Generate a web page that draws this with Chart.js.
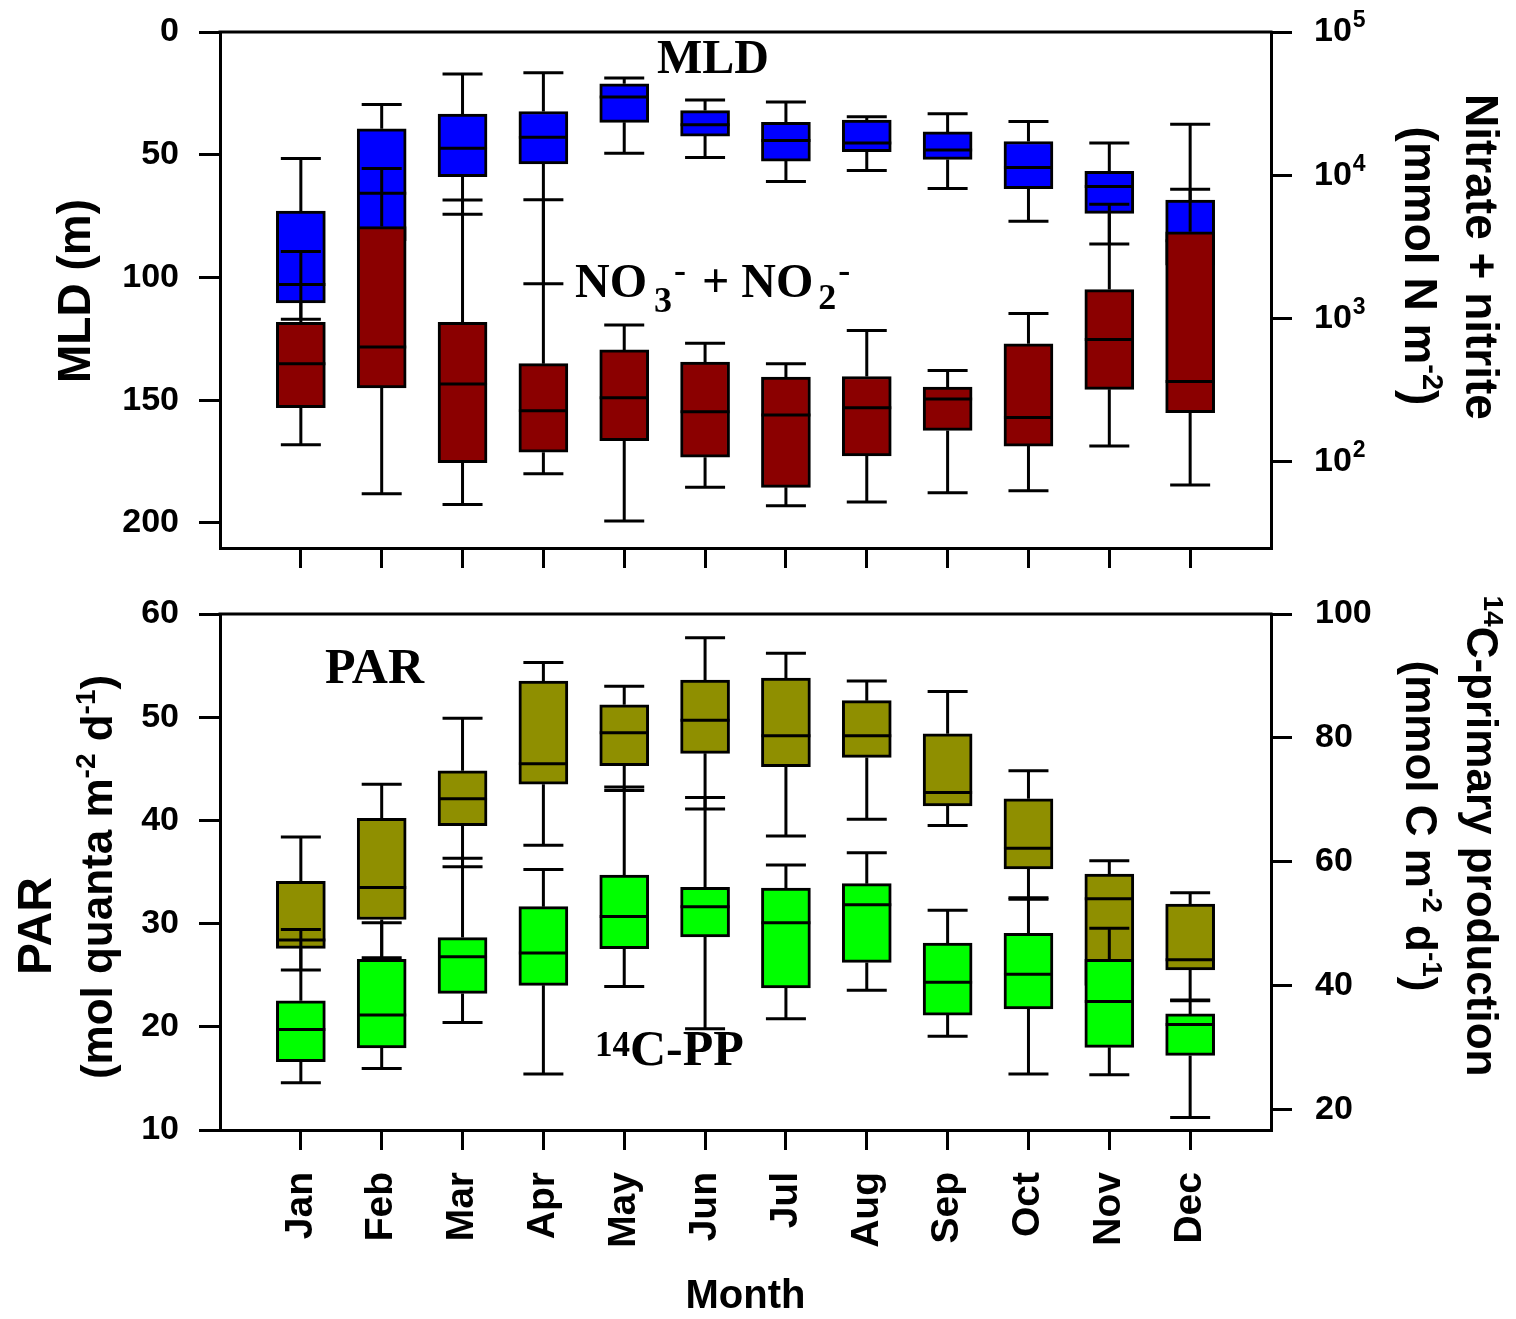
<!DOCTYPE html>
<html>
<head>
<meta charset="utf-8">
<script src="https://cdn.jsdelivr.net/npm/chart.js@4.4.0/dist/chart.umd.min.js"></script>
<style>
  body { margin: 0; background: #fff; }
  #wrap { position: relative; width: 1516px; height: 1319px; }
  #mldChart { position: absolute; left: 0; top: 0; }
  #parChart { position: absolute; left: 0; top: 580px; }
</style>
</head>
<body>
<div id="wrap">
  <canvas id="mldChart" width="1516" height="580"></canvas>
  <canvas id="parChart" width="1516" height="739"></canvas>
</div>
<script>
// month categories
const months = ["Jan", "Feb", "Mar", "Apr", "May", "Jun", "Jul", "Aug", "Sep", "Oct", "Nov", "Dec"];

// mixed layer depth (m) - box stats
const mldMin = [51.5, 29.5, 17.1, 16.6, 18.7, 27.7, 28.5, 34.5, 33.3, 36.5, 45.2, 37.6];
const mldQ1  = [73.0, 39.4, 33.4, 32.4, 21.1, 32.0, 36.8, 35.9, 40.7, 44.6, 56.8, 68.5];
const mldMed = [102.9, 65.7, 47.4, 42.9, 26.5, 37.8, 44.2, 45.2, 48.1, 55.2, 62.9, 85];
const mldQ3  = [110.4, 85, 58.9, 53.7, 36.8, 42.4, 52.6, 48.7, 51.9, 63.8, 73.9, 95];
const mldMax = [117, 100, 74.2, 102.6, 49.4, 51.1, 60.9, 56.4, 63.8, 77.1, 86.4, 110];

// nitrate + nitrite (mmol N m-2)
const noxMax = [2945, 11180, 6714, 6745, 902, 673, 485, 826, 434, 1088, 6290, 7980];
const noxQ3  = [944, 4388, 944, 485, 605, 498, 391, 395, 333, 668, 1595, 4036];
const noxMed = [485, 634, 350, 228, 280, 224, 213, 239, 275, 204, 714, 364];
const noxQ1  = [239, 329, 99, 117, 141, 108, 66.5, 110, 166, 129, 321, 221];
const noxMin = [132, 60, 50.5, 82.6, 38.7, 66.5, 49.4, 52.5, 60.9, 63, 129, 69];

// PAR (mol quanta m-2 d-1)
const parMax = [38.4, 43.5, 49.9, 55.3, 53.0, 57.7, 56.2, 53.5, 52.5, 44.8, 36.1, 33.0];
const parQ3  = [34.1, 40.2, 44.8, 53.5, 51.2, 53.6, 53.8, 51.6, 48.4, 42.1, 34.8, 31.9];
const parMed = [28.4, 33.5, 42.1, 45.5, 48.5, 49.7, 48.2, 48.2, 42.7, 37.3, 32.4, 26.5];
const parQ1  = [27.6, 30.4, 39.5, 43.5, 45.3, 46.5, 45.2, 46.1, 41.4, 35.3, 24.0, 25.5];
const parMin = [25.5, 26.7, 35.5, 37.6, 42.9, 41.1, 38.5, 40.1, 39.5, 32.5, 20.0, 22.6];

// 14C primary production (mmol C m-2 d-1)
const ppMax = [49.1, 50.2, 60.6, 58.8, 72.1, 70.4, 59.5, 61.5, 52.2, 54.0, 49.3, 37.6];
const ppQ3  = [37.6, 44.3, 47.8, 52.8, 57.9, 55.9, 55.8, 56.5, 46.9, 48.5, 44.3, 35.5];
const ppMed = [33.0, 35.3, 44.7, 45.3, 51.2, 52.8, 50.2, 53.1, 40.6, 41.9, 37.5, 33.8];
const ppQ1  = [27.8, 30.0, 38.8, 40.1, 46.0, 47.9, 39.7, 43.8, 35.3, 36.3, 30.1, 28.8];
const ppMin = [24.4, 26.7, 34.1, 25.8, 39.9, 33.1, 34.7, 39.3, 31.9, 25.8, 25.7, 18.8];

// axis ticks
const mldTicks = [0, 50, 100, 150, 200];
const noxTicks = [1e2, 1e3, 1e4, 1e5];
const parTicks = [10, 20, 30, 40, 50, 60];
const ppTicks = [20, 40, 60, 80, 100];

const SANS = '"Liberation Sans", Arial, sans-serif';
const SERIF = '"Liberation Serif", "Times New Roman", serif';

function boxData(q1, q3) {
  return months.map((m, i) => ({ x: i + 1, y: [q1[i], q3[i]] }));
}

function boxSet(label, color, axis, order, stats) {
  return {
    label: label,
    data: boxData(stats.q1, stats.q3),
    yAxisID: axis,
    backgroundColor: color,
    borderColor: "#000",
    borderWidth: 3,
    borderSkipped: false,
    barThickness: 49,
    grouped: false,
    order: order,
    stats: stats
  };
}

// whiskers, caps and median lines for each box dataset
const whiskerPlugin = {
  id: "whiskers",
  afterDatasetDraw(chart, args) {
    const ds = chart.data.datasets[args.index];
    const s = ds.stats;
    if (!s) return;
    const ys = chart.scales[ds.yAxisID];
    const ctx = chart.ctx;
    ctx.save();
    ctx.strokeStyle = "#000";
    ctx.lineWidth = 3;
    args.meta.data.forEach((bar, i) => {
      const x = bar.x;
      const hw = bar.width / 2;
      const pMin = ys.getPixelForValue(s.min[i]);
      const pQ1 = ys.getPixelForValue(s.q1[i]);
      const pMed = ys.getPixelForValue(s.med[i]);
      const pQ3 = ys.getPixelForValue(s.q3[i]);
      const pMax = ys.getPixelForValue(s.max[i]);
      ctx.beginPath();
      ctx.moveTo(x, pQ1); ctx.lineTo(x, pMin);
      ctx.moveTo(x - 20, pMin); ctx.lineTo(x + 20, pMin);
      ctx.moveTo(x, pQ3); ctx.lineTo(x, pMax);
      ctx.moveTo(x - 20, pMax); ctx.lineTo(x + 20, pMax);
      ctx.moveTo(x - hw, pMed); ctx.lineTo(x + hw, pMed);
      ctx.stroke();
    });
    ctx.restore();
  }
};

// draw a line of text made of runs (for super/subscripts), optionally rotated
function drawRuns(ctx, x, y, angle, runs, align) {
  ctx.save();
  ctx.translate(x, y);
  ctx.rotate(angle);
  ctx.fillStyle = "#000";
  ctx.textBaseline = "alphabetic";
  ctx.textAlign = "left";
  let total = 0;
  runs.forEach(r => {
    ctx.font = "bold " + r.size + "px " + (r.family || SANS);
    r.w = ctx.measureText(r.t).width + (r.dx || 0);
    total += r.w;
  });
  let cx = align === "left" ? 0 : -total / 2;
  runs.forEach(r => {
    ctx.font = "bold " + r.size + "px " + (r.family || SANS);
    ctx.fillText(r.t, cx + (r.dx || 0), r.dy || 0);
    cx += r.w;
  });
  ctx.restore();
}

const frame = (chart) => {
  const a = chart.chartArea;
  const ctx = chart.ctx;
  ctx.save();
  ctx.strokeStyle = "#000";
  ctx.lineWidth = 3;
  ctx.beginPath();
  ctx.moveTo(a.left - 1.5, a.top);
  ctx.lineTo(a.right + 1.5, a.top);
  ctx.stroke();
  ctx.restore();
};

const UP = -Math.PI / 2, DOWN = Math.PI / 2;

const mldText = {
  id: "mldText",
  afterDraw(chart) {
    const ctx = chart.ctx;
    frame(chart);
    // log axis labels 10^n
    const y2 = chart.scales.y2;
    ctx.save();
    ctx.fillStyle = "#000";
    ctx.textBaseline = "middle";
    noxTicks.forEach(v => {
      const py = y2.getPixelForValue(v);
      ctx.font = "bold 34px " + SANS;
      ctx.fillText("10", 1314, py);
      const w = ctx.measureText("10").width;
      ctx.font = "bold 23px " + SANS;
      ctx.fillText(String(Math.round(Math.log10(v))), 1314 + w + 1, py - 11);
    });
    ctx.restore();
    drawRuns(ctx, 90, 291, UP, [{ t: "MLD (m)", size: 46 }]);
    drawRuns(ctx, 1466, 257, DOWN, [{ t: "Nitrate + nitrite", size: 46 }]);
    drawRuns(ctx, 1405, 266, DOWN, [
      { t: "(mmol N m", size: 46 }, { t: "-2", size: 29, dy: -18 }, { t: ")", size: 46 }
    ]);
    drawRuns(ctx, 657, 73, 0, [{ t: "MLD", size: 48, family: SERIF }], "left");
    drawRuns(ctx, 575, 297, 0, [
      { t: "NO", size: 48, family: SERIF },
      { t: "3", size: 36, family: SERIF, dy: 15, dx: 7 },
      { t: "-", size: 36, family: SERIF, dy: -15, dx: 2 },
      { t: " + NO", size: 48, family: SERIF, dx: 4 },
      { t: "2", size: 36, family: SERIF, dy: 12, dx: 5 },
      { t: "-", size: 36, family: SERIF, dy: -15, dx: 2 }
    ], "left");
  }
};

const parText = {
  id: "parText",
  afterDraw(chart) {
    const ctx = chart.ctx;
    frame(chart);
    drawRuns(ctx, 51, 346, UP, [{ t: "PAR", size: 48 }]);
    drawRuns(ctx, 112, 297, UP, [
      { t: "(mol quanta m", size: 44 }, { t: "-2", size: 28, dy: -17 },
      { t: " d", size: 44 }, { t: "-1", size: 28, dy: -17 }, { t: ")", size: 44 }
    ]);
    drawRuns(ctx, 1467, 256, DOWN, [
      { t: "14", size: 28, dy: -17 }, { t: "C-primary production", size: 44 }
    ]);
    drawRuns(ctx, 1406, 246, DOWN, [
      { t: "(mmol C m", size: 44 }, { t: "-2", size: 28, dy: -17 },
      { t: " d", size: 44 }, { t: "-1", size: 28, dy: -17 }, { t: ")", size: 44 }
    ]);
    drawRuns(ctx, 325, 103, 0, [{ t: "PAR", size: 50, family: SERIF }], "left");
    drawRuns(ctx, 595, 485, 0, [
      { t: "14", size: 35, family: SERIF, dy: -9 },
      { t: "C-PP", size: 50, family: SERIF }
    ], "left");
  }
};

const tickFont = { family: SANS, size: 34, weight: "bold" };
const axisGrid = { drawOnChartArea: false, drawTicks: true, tickLength: 21, color: "#000", lineWidth: 3, offset: false };
const axisBorder = { display: true, color: "#000", width: 3 };

function setTicks(list) {
  return scale => { scale.ticks = list.map(v => ({ value: v })); };
}

// fixed axis size, and no extra label padding pushed into the layout
function fixWidth(w) {
  return s => { s.width = w; s.paddingTop = 0; s.paddingBottom = 0; };
}

function monthAxis(showLabels, height) {
  return {
    type: "linear",
    min: 0,
    max: 13,
    offset: false,
    grid: { drawOnChartArea: false, drawTicks: true, tickLength: 20, color: "#000", lineWidth: 3, offset: false },
    border: axisBorder,
    afterBuildTicks: setTicks(months.map((m, i) => i + 1)),
    afterFit: s => { s.height = height; s.paddingLeft = 0; s.paddingRight = 0; },
    ticks: {
      display: showLabels,
      autoSkip: false,
      minRotation: 90,
      maxRotation: 90,
      padding: 22,
      color: "#000",
      font: { family: SANS, size: 39, weight: "bold" },
      callback: v => months[v - 1]
    },
    title: {
      display: showLabels,
      text: "Month",
      color: "#000",
      font: { family: SANS, size: 40, weight: "bold", lineHeight: 1 },
      padding: { top: 0, bottom: 2 }
    }
  };
}

const common = {
  responsive: false,
  animation: false,
  plugins: { legend: { display: false }, tooltip: { enabled: false } }
};

// top panel: MLD and nitrate+nitrite
new Chart(document.getElementById("mldChart"), {
  type: "bar",
  data: {
    datasets: [
      boxSet("MLD", "#0000ff", "y", 2, { min: mldMin, q1: mldQ1, med: mldMed, q3: mldQ3, max: mldMax }),
      boxSet("Nitrate + nitrite", "#8b0000", "y2", 1, { min: noxMin, q1: noxQ1, med: noxMed, q3: noxQ3, max: noxMax })
    ]
  },
  options: {
    ...common,
    layout: { padding: { top: 32, left: 0, right: 0, bottom: 0 } },
    scales: {
      x: monthAxis(false, 32),
      y: {
        type: "linear",
        position: "left",
        reverse: true,
        min: 0,
        max: 210.2,
        grid: axisGrid,
        border: axisBorder,
        afterBuildTicks: setTicks(mldTicks),
        afterFit: fixWidth(220),
        ticks: { color: "#000", font: tickFont, padding: 20 }
      },
      y2: {
        type: "logarithmic",
        position: "right",
        min: 25.1,
        max: 1e5,
        grid: axisGrid,
        border: axisBorder,
        afterBuildTicks: setTicks(noxTicks),
        afterFit: fixWidth(245),
        ticks: { color: "#000", font: tickFont, padding: 23, callback: () => "" }
      }
    }
  },
  plugins: [whiskerPlugin, mldText]
});

// bottom panel: PAR and 14C primary production
new Chart(document.getElementById("parChart"), {
  type: "bar",
  data: {
    datasets: [
      boxSet("PAR", "#8f8f00", "y", 2, { min: parMin, q1: parQ1, med: parMed, q3: parQ3, max: parMax }),
      boxSet("14C-PP", "#00ff00", "y2", 1, { min: ppMin, q1: ppQ1, med: ppMed, q3: ppQ3, max: ppMax })
    ]
  },
  options: {
    ...common,
    layout: { padding: { top: 34, left: 0, right: 0, bottom: 0 } },
    scales: {
      x: monthAxis(true, 189),
      y: {
        type: "linear",
        position: "left",
        min: 10,
        max: 60,
        grid: axisGrid,
        border: axisBorder,
        afterBuildTicks: setTicks(parTicks),
        afterFit: fixWidth(220),
        ticks: { color: "#000", font: tickFont, padding: 20 }
      },
      y2: {
        type: "linear",
        position: "right",
        min: 16.77,
        max: 100,
        grid: axisGrid,
        border: axisBorder,
        afterBuildTicks: setTicks(ppTicks),
        afterFit: fixWidth(245),
        ticks: { color: "#000", font: tickFont, padding: 23 }
      }
    }
  },
  plugins: [whiskerPlugin, parText]
});
</script>
</body>
</html>
